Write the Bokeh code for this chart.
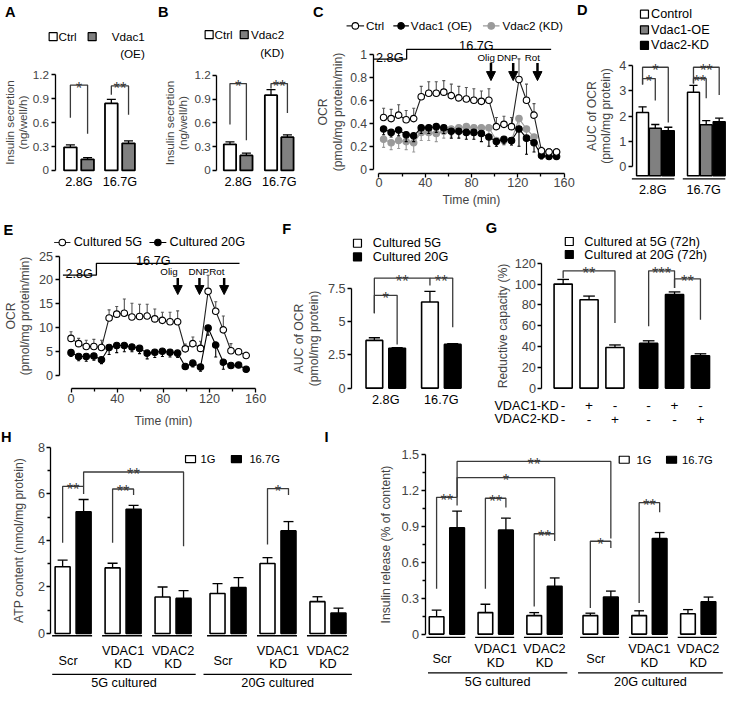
from bokeh.plotting import figure
from bokeh.models import Range1d, FixedTicker, Arrow, NormalHead
from bokeh.layouts import column, row
from bokeh.core.properties import value
from bokeh.embed import file_html
from bokeh.resources import INLINE

S = 0.976
FONT = "Liberation Sans"
GRAY = "#808080"
LGRAY = "#9a9a9a"
DK = "#3a3a3a"

# ------------------------------------------------------------------ data
# A
A_groups = ["2.8G", "16.7G"]
A_ctrl = [0.29, 0.84]
A_ctrl_err = [0.03, 0.05]
A_oe = [0.14, 0.34]
A_oe_err = [0.02, 0.03]
# B
B_groups = ["2.8G", "16.7G"]
B_ctrl = [0.33, 0.95]
B_ctrl_err = [0.03, 0.07]
B_kd = [0.19, 0.42]
B_kd_err = [0.03, 0.03]
# C
C_time = [4, 10.5, 17, 23.5, 30, 36.5, 43, 49.5, 56, 62.5, 69, 75.5,
          82, 88.5, 95, 101.5, 108, 114.5, 121, 127.5, 134, 140.5, 147, 153.5]
C_ctrl = [0.45, 0.44, 0.47, 0.43, 0.44, 0.63, 0.66, 0.66, 0.67, 0.64, 0.62, 0.61,
          0.60, 0.59, 0.60, 0.37, 0.39, 0.37, 0.78, 0.60, 0.47, 0.16, 0.15, 0.15]
C_ctrl_err = [0.08, 0.08, 0.09, 0.08, 0.09, 0.09, 0.10, 0.10, 0.10, 0.10, 0.10, 0.10,
              0.10, 0.09, 0.10, 0.08, 0.07, 0.08, 0.18, 0.14, 0.10, 0.03, 0.03, 0.03]
C_oe = [0.35, 0.32, 0.34, 0.30, 0.29, 0.36, 0.36, 0.37, 0.36, 0.33, 0.33, 0.32,
        0.32, 0.31, 0.28, 0.24, 0.26, 0.25, 0.35, 0.27, 0.23, 0.12, 0.11, 0.11]
C_oe_err = [0.05, 0.04, 0.05, 0.06, 0.05, 0.05, 0.05, 0.05, 0.05, 0.06, 0.06, 0.06,
            0.06, 0.07, 0.08, 0.04, 0.04, 0.04, 0.15, 0.14, 0.08, 0.03, 0.02, 0.02]
C_kd = [0.26, 0.23, 0.25, 0.24, 0.23, 0.32, 0.32, 0.31, 0.33, 0.35, 0.36, 0.37,
        0.36, 0.36, 0.36, 0.25, 0.25, 0.25, 0.44, 0.35, 0.28, 0.15, 0.15, 0.15]
C_kd_err = [0.07, 0.06, 0.07, 0.07, 0.08, 0.07, 0.07, 0.07, 0.06, 0.06, 0.06, 0.06,
            0.06, 0.06, 0.06, 0.05, 0.04, 0.04, 0.08, 0.07, 0.06, 0.03, 0.03, 0.03]
# D
D_groups = ["2.8G", "16.7G"]
D_ctrl = [2.15, 2.95]
D_ctrl_err = [0.22, 0.27]
D_oe = [1.52, 1.66]
D_oe_err = [0.15, 0.16]
D_kd = [1.42, 1.78]
D_kd_err = [0.14, 0.14]
# E
E_time = [0, 6.6, 13.2, 19.8, 26.4, 33, 39.6, 46.2, 52.8, 59.4, 66, 72.6,
          79.2, 85.8, 92.4, 99, 105.6, 112.2, 118.8, 125.4, 132, 138.6, 145.2, 151.8]
E_5g = [7.7, 6.6, 6.0, 6.0, 5.8, 12.0, 12.8, 13.0, 12.2, 12.3, 12.4, 11.8,
        11.5, 11.2, 11.2, 5.5, 6.6, 5.6, 17.6, 13.4, 9.5, 5.1, 4.9, 4.1]
E_5g_err = [1.4, 1.1, 1.3, 1.5, 1.5, 1.7, 1.6, 3.0, 2.9, 2.6, 2.5, 2.1,
            1.7, 2.0, 2.3, 1.0, 1.4, 1.5, 3.4, 2.0, 2.9, 1.5, 0.6, 0.7]
E_20g = [4.7, 3.9, 3.9, 4.0, 3.2, 5.8, 6.2, 6.2, 5.9, 5.6, 4.6, 4.8,
         5.0, 4.8, 4.6, 1.8, 2.5, 1.7, 9.9, 6.3, 2.7, 2.0, 2.1, 1.2]
E_20g_err = [0.8, 0.9, 1.0, 0.9, 0.8, 1.5, 1.5, 1.3, 1.0, 1.1, 1.2, 1.1,
             1.1, 1.0, 0.9, 0.6, 0.8, 0.9, 1.5, 2.5, 1.5, 0.5, 0.4, 0.3]
# F
F_groups = ["2.8G", "16.7G"]
F_5g = [3.6, 6.5]
F_5g_err = [0.2, 0.8]
F_20g = [3.0, 3.3]
F_20g_err = [0.06, 0.06]
# G
G_5g = [100, 85, 39]
G_5g_err = [4.5, 3.5, 2.5]
G_20g = [43, 90, 31]
G_20g_err = [2.5, 2.5, 2.0]
G_kd1 = ["-", "+", "-", "-", "+", "-"]
G_kd2 = ["-", "-", "+", "-", "-", "+"]
# H
HI_cats = [["Scr"], ["VDAC1", "KD"], ["VDAC2", "KD"], ["Scr"], ["VDAC1", "KD"], ["VDAC2", "KD"]]
HI_culture = ["5G cultured", "20G cultured"]
H_1g = [2.87, 2.82, 1.57, 1.72, 3.01, 1.37]
H_1g_err = [0.28, 0.20, 0.43, 0.42, 0.25, 0.21]
H_16g = [5.23, 5.34, 1.51, 1.98, 4.41, 0.88]
H_16g_err = [0.53, 0.17, 0.33, 0.42, 0.40, 0.21]
# I
I_1g = [0.145, 0.18, 0.155, 0.155, 0.155, 0.17]
I_1g_err = [0.055, 0.07, 0.025, 0.02, 0.04, 0.035]
I_16g = [0.89, 0.87, 0.40, 0.31, 0.80, 0.27]
I_16g_err = [0.14, 0.10, 0.07, 0.05, 0.05, 0.04]


# ------------------------------------------------------------------ helpers
def fs(n):
    return f"{n * S:.1f}px"


def panel(w, h, x0, ppx, y0, ppy, xaxis=False, top=0):
    xr = Range1d((0 - x0) / ppx, (w - x0) / ppx)
    yr = Range1d((y0 - h) / ppy, (y0 - top) / ppy)
    p = figure(width=round(w * S), height=round((h - top) * S), x_range=xr, y_range=yr,
               min_border=0, toolbar_location=None, output_backend="svg",
               x_axis_location=("below" if xaxis else None))
    p.outline_line_color = None
    p.xgrid.grid_line_color = None
    p.ygrid.grid_line_color = None
    return p, (lambda px: (px - x0) / ppx), (lambda py: (y0 - py) / ppy)


def style_axis(ax, loc, bounds, ticks, minor=(), label="", ov=None, tfs=13, lfs=12.5, stand=4, lh=1.05,
               lstand=2):
    ax.fixed_location = loc
    ax.bounds = bounds
    ax.ticker = FixedTicker(ticks=list(ticks), minor_ticks=list(minor))
    ax.axis_label = label
    ax.axis_label_text_font = FONT
    ax.axis_label_text_font_style = "normal"
    ax.axis_label_text_font_size = fs(lfs)
    ax.axis_label_text_line_height = lh
    ax.axis_label_standoff = stand
    ax.major_label_text_font = FONT
    ax.major_label_text_font_size = fs(tfs)
    ax.major_label_standoff = lstand
    ax.major_tick_in = 0
    ax.major_tick_out = 4
    ax.minor_tick_in = 0
    ax.minor_tick_out = 3 if minor else 0
    ax.axis_line_width = 1.3
    ax.major_tick_line_width = 1.3
    ax.minor_tick_line_width = 1.3
    if ov:
        ax.major_label_overrides = ov


def txt(p, xs, ys, texts, size=13, align="center", baseline="middle", bold=False, color="black"):
    p.text(x=list(xs), y=list(ys), text=list(texts), text_font=value(FONT),
           text_font_size=fs(size), text_align=align, text_baseline=baseline,
           text_color=color, text_font_style=("bold" if bold else "normal"))


def letter(p, x, y, s):
    txt(p, [x], [y], [s], size=15, bold=True)


def bars(p, xs, tops, width, fill, bottom=0, lw=1.6):
    p.vbar(x=list(xs), top=list(tops), width=width, bottom=bottom,
           fill_color=fill, line_color="black", line_width=lw)


def err(p, xs, ys, es, capw, sign=1, color="black", lw=1.3):
    ends = [y + sign * e for y, e in zip(ys, es)]
    p.segment(x0=list(xs), y0=list(ys), x1=list(xs), y1=ends, line_color=color, line_width=lw)
    p.segment(x0=[x - capw / 2 for x in xs], y0=ends, x1=[x + capw / 2 for x in xs], y1=ends,
              line_color=color, line_width=lw)


def bracket(p, ppy, x1, x2, top, yl, yr, stars, size=17):
    p.line([x1, x1, x2, x2], [yl, top, top, yr], line_color=DK, line_width=1.3)
    txt(p, [(x1 + x2) / 2], [top - 3.0 / ppy], [stars], size=size, baseline="alphabetic", color=DK)


def lbox(p, x, y, fill, w=8, h=8):
    p.rect(x=[x], y=[y], width=w, height=h, width_units="screen", height_units="screen",
           fill_color=fill, line_color="black", line_width=1.2)


def arrow(p, x, y1, y2):
    p.add_layout(Arrow(end=NormalHead(size=9, fill_color="black", line_color="black"),
                       x_start=x, y_start=y1, x_end=x, y_end=y2,
                       line_width=2.5, line_color="black"))


def series(p, t, y, e, sign, fill, mline, lcolor, ecolor, size=6.5):
    err(p, t, y, e, 2.6, sign=sign, color=ecolor, lw=1.1)
    p.line(t, y, line_color=lcolor, line_width=1.1)
    p.scatter(t, y, marker="circle", size=size, fill_color=fill, line_color=mline, line_width=1.1)


def legend_line(p, xa, xb, y, fill, mline, lcolor):
    p.line([xa, xb], [y, y], line_color=lcolor, line_width=1.1)
    p.scatter([(xa + xb) / 2], [y], marker="circle", size=6.5, fill_color=fill, line_color=mline, line_width=1.1)


R1 = 216  # height of first row (reference px)

# ------------------------------------------------------------------ A
pA, X, Y = panel(160, R1, 80.5, 42.0, 174.0, 81.67)
g = list(range(len(A_groups)))
xl = [i - 0.21 for i in g]
xr = [i + 0.21 for i in g]
bars(pA, xl, A_ctrl, 0.31, "white", lw=1.8)
bars(pA, xr, A_oe, 0.31, GRAY, lw=1.8)
err(pA, xl, A_ctrl, A_ctrl_err, 0.22)
err(pA, xr, A_oe, A_oe_err, 0.22)
style_axis(pA.yaxis[0], X(56), (0, 1.2), [0, 0.3, 0.6, 0.9, 1.2],
           label="Insulin secretion\n(ng/well/h)", ov={0: "0"}, tfs=12, lfs=12, stand=1, lh=1.0)
txt(pA, g, [Y(186)] * 2, A_groups)
bracket(pA, 81.67, xl[0], xr[0], 1.07, 0.66, 0.46, "*")
bracket(pA, 81.67, xl[1], xr[1], 1.06, 0.95, 0.70, "**")
lbox(pA, X(54), Y(37), "white")
txt(pA, [X(59.5)], [Y(37)], ["Ctrl"], size=12, align="left")
lbox(pA, X(94), Y(37), GRAY)
txt(pA, [X(148)], [Y(37)], ["Vdac1"], size=12, align="right")
txt(pA, [X(148)], [Y(54)], ["(OE)"], size=12, align="right")
letter(pA, X(10), Y(12), "A")

# ------------------------------------------------------------------ B
pB, X, Y = panel(158, R1, 83.8, 42.1, 174.0, 81.1)
g = list(range(len(B_groups)))
xl = [i - 0.2 for i in g]
xr = [i + 0.2 for i in g]
bars(pB, xl, B_ctrl, 0.30, "white", lw=1.8)
bars(pB, xr, B_kd, 0.30, GRAY, lw=1.8)
err(pB, xl, B_ctrl, B_ctrl_err, 0.22)
err(pB, xr, B_kd, B_kd_err, 0.22)
style_axis(pB.yaxis[0], X(61.7), (0, 1.2), [0, 0.3, 0.6, 0.9, 1.2],
           label="Insulin secretion\n(ng/well/h)", ov={0: "0"}, tfs=12, lfs=12, stand=2, lh=1.0)
txt(pB, g, [Y(186)] * 2, B_groups)
bracket(pB, 81.1, xl[0], xr[0], 1.097, 0.58, 0.38, "*")
bracket(pB, 81.1, xl[1], xr[1], 1.097, 1.036, 0.727, "**")
lbox(pB, X(54), Y(35), "white")
txt(pB, [X(59.5)], [Y(35)], ["Ctrl"], size=12, align="left")
lbox(pB, X(90), Y(35), GRAY)
txt(pB, [X(131)], [Y(35)], ["Vdac2"], size=12, align="right")
txt(pB, [X(131)], [Y(53)], ["(KD)"], size=12, align="right")
letter(pB, X(7), Y(12), "B")

# ------------------------------------------------------------------ C
pC, X, Y = panel(272, R1, 70.3, 1.1875, 172.7, 117.7, xaxis=True)
series(pC, C_time, C_kd, C_kd_err, -1, LGRAY, LGRAY, LGRAY, LGRAY)
series(pC, C_time, C_oe, C_oe_err, -1, "black", "black", "black", "black")
series(pC, C_time, C_ctrl, C_ctrl_err, 1, "white", "black", "#222222", "#555555")
style_axis(pC.xaxis[0], Y(176.7), (0, 160), [0, 40, 80, 120, 160], [20, 60, 100, 140],
           label="Time (min)", stand=2, lstand=1)
style_axis(pC.yaxis[0], X(64.3), (0, 1.0), [0, 0.2, 0.4, 0.6, 0.8, 1.0],
           label="OCR\n(pmol/mg protein/min)", ov={0: "0"}, tfs=12.5, stand=3)
pC.line([X(64.3), 23.9, 23.9, 148.8], [0.958, 0.958, 1.042, 1.042], line_color="black", line_width=1.3)
txt(pC, [9.3], [Y(58.5)], ["2.8G"], baseline="alphabetic")
txt(pC, [84.2], [Y(47)], ["16.7G"], baseline="alphabetic")
for t in (96.8, 116.0, 137.0):
    arrow(pC, t, Y(64), Y(82))
txt(pC, [92.6, 110.9, 132.5], [Y(58.3)] * 3, ["Olig", "DNP", "Rot"], size=10)
ly = Y(26)
legend_line(pC, X(37), X(55), ly, "white", "black", "#222222")
txt(pC, [X(57)], [ly], ["Ctrl"], size=12, align="left")
legend_line(pC, X(85), X(101), ly, "black", "black", "black")
txt(pC, [X(103)], [ly], ["Vdac1 (OE)"], size=12, align="left")
legend_line(pC, X(177), X(194), ly, LGRAY, LGRAY, LGRAY)
txt(pC, [X(197)], [ly], ["Vdac2 (KD)"], size=12, align="left")
letter(pC, X(8), Y(12), "C")

# ------------------------------------------------------------------ D
pD, X, Y = panel(163, R1, 81.8, 52.2, 170.0, 25.8)
g = list(range(len(D_groups)))
offs = [-0.25, 0.0, 0.255]
base = Y(179.5)
for off, vals, errs, col in ((offs[0], D_ctrl, D_ctrl_err, "white"),
                             (offs[1], D_oe, D_oe_err, GRAY),
                             (offs[2], D_kd, D_kd_err, "black")):
    xs = [i + off for i in g]
    bars(pD, xs, vals, 0.235, col, bottom=base, lw=1.5)
    err(pD, xs, vals, errs, 0.16)
style_axis(pD.yaxis[0], X(58.3), (0, 4), [0, 1, 2, 3, 4],
           label="AUC of OCR\n(pmol/mg protein)", stand=3)
pD.segment(x0=[i - 0.46 for i in g], y0=[Y(182.7)] * 2, x1=[i + 0.375 for i in g], y1=[Y(182.7)] * 2,
           line_color="black", line_width=1.3)
txt(pD, [i - 0.05 for i in g], [Y(194)] * 2, D_groups)
bracket(pD, 25.8, offs[0], offs[2], 3.94, 3.26, 1.75, "*")
bracket(pD, 25.8, offs[0], offs[1], 3.49, 3.26, 2.62, "*")
bracket(pD, 25.8, 1 + offs[0], 1 + offs[2], 3.94, 3.3, 2.84, "**")
bracket(pD, 25.8, 1 + offs[0], 1 + offs[1], 3.49, 3.3, 2.71, "**")
for yy, col, lab in ((14, "white", "Control"), (30, GRAY, "Vdac1-OE"), (46, "black", "Vdac2-KD")):
    lbox(pD, X(70.7), Y(yy), col)
    txt(pD, [X(77.5)], [Y(yy)], [lab], align="left")
letter(pD, X(7), Y(10), "D")

# ------------------------------------------------------------------ row 2 (local coords start at ref y 210)
T2 = R1 - 210

# ------------------------------------------------------------------ E
pE, X, Y = panel(285, 227, 72.3, 1.183, 173.3, 4.864, xaxis=True, top=T2)
series(pE, E_time, E_20g, E_20g_err, -1, "black", "black", "black", "black")
series(pE, E_time, E_5g, E_5g_err, 1, "white", "black", "#222222", "#555555")
style_axis(pE.xaxis[0], Y(186.7), (0, 160), [0, 40, 80, 120, 160], [20, 60, 100, 140],
           label="Time (min)", stand=7)
style_axis(pE.yaxis[0], X(60), (0, 25), [0, 5, 10, 15, 20, 25],
           label="OCR\n(pmol/mg protein/min)", tfs=13)
pE.line([X(64), 22, 22, 146], [21.0, 21.0, 23.5, 23.5], line_color="black", line_width=1.3)
txt(pE, [7.1], [Y(69.5)], ["2.8G"], baseline="alphabetic")
txt(pE, [71.3], [Y(57)], ["16.7G"], baseline="alphabetic")
for t in (92.5, 111.3, 132.7):
    arrow(pE, t, Y(74), Y(91))
txt(pE, [84.9, 110.7, 126.3], [Y(67.7)] * 3, ["Olig", "DNP", "Rot"], size=10)
ly = Y(37.7)
legend_line(pE, X(55), X(71.7), ly, "white", "black", "#222222")
txt(pE, [X(75)], [ly], ["Cultured 5G"], size=13, align="left")
legend_line(pE, X(152.7), X(170), ly, "black", "black", "black")
txt(pE, [X(173.3)], [ly], ["Cultured 20G"], size=13, align="left")
letter(pE, X(8), Y(25), "E")

# ------------------------------------------------------------------ F
pF, X, Y = panel(200, 227, 110.0, 57.0, 186.7, 13.56, top=T2)
g = list(range(len(F_groups)))
xl = [i - 0.205 for i in g]
xr = [i + 0.205 for i in g]
bars(pF, xl, F_5g, 0.30, "white")
bars(pF, xr, F_20g, 0.30, "black")
err(pF, xl, F_5g, F_5g_err, 0.2)
err(pF, xr, F_20g, F_20g_err, 0.2)
style_axis(pF.yaxis[0], X(75), (0, 7.5), [0, 2.5, 5, 7.5],
           label="AUC of OCR\n(pmol/mg protein)", ov={0: "0"})
txt(pF, g, [Y(198.5)] * 2, F_groups)
bracket(pF, 13.56, xl[0], xr[0], 7.0, 5.65, 3.3, "*")
bracket(pF, 13.56, xl[0], xl[1], 8.3, 5.65, 7.74, "**")
bracket(pF, 13.56, xl[1], xr[1], 8.3, 8.3, 4.6, "**")
lbox(pF, X(81), Y(38.5), "white")
txt(pF, [X(96.7)], [Y(38.5)], ["Cultured 5G"], align="left")
lbox(pF, X(81), Y(52.5), "black")
txt(pF, [X(96.7)], [Y(52.5)], ["Cultured 20G"], align="left")
letter(pF, X(8.3), Y(24.3), "F")

# ------------------------------------------------------------------ G
pG, X, Y = panel(268, 227, 91.7, 26.5, 186.7, 1.064, top=T2)
pos = [i + (0.3 if i >= 3 else 0) for i in range(6)]
bars(pG, pos[:3], G_5g, 0.70, "white")
bars(pG, pos[3:], G_20g, 0.70, "black")
err(pG, pos[:3], G_5g, G_5g_err, 0.45)
err(pG, pos[3:], G_20g, G_20g_err, 0.45)
style_axis(pG.yaxis[0], X(70), (0, 120), [0, 20, 40, 60, 80, 100, 120],
           label="Reductive capacity (%)", stand=1)
bracket(pG, 1.064, pos[0], pos[2], 112.8, 105.6, 62.7, "**")
bracket(pG, 1.064, pos[3], pos[4], 112.8, 59.6, 96.2, "***")
bracket(pG, 1.064, pos[4], pos[5], 105.0, 96.2, 65.8, "**")
lbox(pG, X(98), Y(36.7), "white")
txt(pG, [X(113.3)], [Y(36.7)], ["Cultured at 5G (72h)"], align="left")
lbox(pG, X(98), Y(50), "black")
txt(pG, [X(113.3)], [Y(50)], ["Cultured at 20G (72h)"], align="left")
txt(pG, [X(87)], [Y(205)], ["VDAC1-KD"], align="right")
txt(pG, pos, [Y(205)] * 6, G_kd1, size=14)
txt(pG, [X(87)], [Y(218.5)], ["VDAC2-KD"], align="right")
txt(pG, pos, [Y(218.5)] * 6, G_kd2, size=14)
letter(pG, X(18.3), Y(23.3), "G")


# ------------------------------------------------------------------ H / I
def group_panel(p, pos, v1, e1, v2, e2, capw, ylines, ylab, yk, ycult, lines_ext):
    xl = [c - 0.21 for c in pos]
    xr = [c + 0.21 for c in pos]
    bars(p, xl, v1, 0.30, "white")
    bars(p, xr, v2, 0.30, "black")
    err(p, xl, v1, e1, capw)
    err(p, xr, v2, e2, capw)
    p.segment(x0=[c - 0.42 for c in pos], y0=[ylines] * 6, x1=[c + 0.38 for c in pos], y1=[ylines] * 6,
              line_color="black", line_width=1.3)
    for c, lab in zip(pos, HI_cats):
        if len(lab) == 1:
            txt(p, [c - 0.1], [ylab[0]], lab)
        else:
            txt(p, [c], [ylab[1]], [lab[0]])
            txt(p, [c], [ylab[2]], [lab[1]])
    (a0, a1), (b0, b1) = lines_ext
    p.segment(x0=[a0, b0], y0=[yk] * 2, x1=[a1, b1], y1=[yk] * 2, line_color="black", line_width=1.3)
    txt(p, [(a0 + a1) / 2, (b0 + b1) / 2], [ycult] * 2, HI_culture)
    return xl, xr


pH, X, Y = panel(375, 270, 74.4, 51.2, 210.7, 23.8)
pos = [j + (0.1 if j >= 3 else 0) for j in range(6)]
xl, xr = group_panel(pH, pos, H_1g, H_1g_err, H_16g, H_16g_err, 0.2, Y(213),
                     (Y(238.5), Y(228.5), Y(242)), Y(252.5), Y(261),
                     ((X(53), X(200)), (X(208), X(360))))
style_axis(pH.yaxis[0], X(51.7), (0, 8), [0, 2, 4, 6, 8], [1, 3, 5, 7],
           label="ATP content (nmol/mg protein)", stand=8)
bracket(pH, 23.8, xl[0], xr[0], 6.32, 3.9, 6.0, "**")
bracket(pH, 23.8, xr[0], xr[2], 6.94, 6.32, 3.75, "**")
bracket(pH, 23.8, xl[1], xr[1], 6.21, 3.9, 5.95, "**")
bracket(pH, 23.8, xl[4], xr[4], 6.23, 3.82, 5.95, "*")
pH.rect(x=[X(194.7), X(241.7)], y=[Y(32.3)] * 2, width=10, height=7, width_units="screen",
        height_units="screen", fill_color=["white", "black"], line_color="black", line_width=1.2)
txt(pH, [X(205), X(255)], [Y(32.3)] * 2, ["1G", "16.7G"], size=11.5, align="left")
letter(pH, X(6), Y(10), "H")
letter(pH, X(334), Y(10), "I")

pI, X, Y = panel(378, 270, 82.3, 50.0, 211.3, 122.2)
pos = [j + (0.15 if j >= 3 else 0) for j in range(6)]
xl, xr = group_panel(pI, pos, I_1g, I_1g_err, I_16g, I_16g_err, 0.2, Y(214.7),
                     (Y(237), Y(227), Y(241)), Y(251), Y(260.5),
                     ((X(63), X(205.7)), (X(216.7), X(365))))
style_axis(pI.yaxis[0], X(60), (0, 1.5), [0, 0.3, 0.6, 0.9, 1.2, 1.5],
           [0.15, 0.45, 0.75, 1.05, 1.35], label="Insulin release (% of content)", stand=6)
bracket(pI, 122.2, xl[0], xr[0], 1.145, 0.38, 1.077, "**")
bracket(pI, 122.2, xr[0], xr[3], 1.445, 1.145, 0.80, "**")
bracket(pI, 122.2, xr[0], xr[2], 1.31, 1.145, 0.84, "*")
bracket(pI, 122.2, xl[1], xr[1], 1.137, 0.38, 1.06, "**")
bracket(pI, 122.2, xl[2], xr[2], 0.84, 0.23, 0.78, "**")
bracket(pI, 122.2, xl[3], xr[3], 0.777, 0.218, 0.72, "*")
bracket(pI, 122.2, xl[4], xr[4], 1.10, 0.26, 1.02, "**")
pI.rect(x=[X(264), X(312.5)], y=[Y(33)] * 2, width=10, height=7, width_units="screen",
        height_units="screen", fill_color=["white", "black"], line_color="black", line_width=1.2)
txt(pI, [X(276.7), X(323.3)], [Y(33)] * 2, ["1G", "16.7G"], size=11.5, align="left")

layout = column(row(pA, pB, pC, pD), row(pE, pF, pG), row(pH, pI))
open("out.html", "w").write(file_html(layout, INLINE))
